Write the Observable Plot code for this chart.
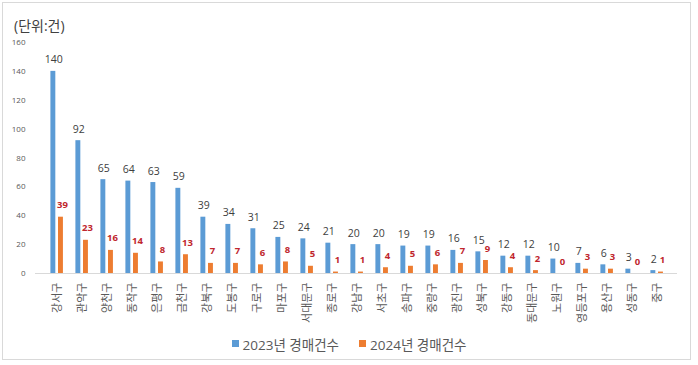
<!DOCTYPE html>
<html>
<head>
<meta charset="utf-8">
<script src="https://cdn.jsdelivr.net/npm/d3@7"></script>
<script src="https://cdn.jsdelivr.net/npm/@observablehq/plot@0.6"></script>
<style>
  html, body { margin: 0; padding: 0; background: #fff; font-family: "Open Sans", "Noto Sans CJK KR", sans-serif; overflow: hidden; }
  #wrap { position: relative; width: 698px; height: 365px; overflow: hidden; }
  #frame { position: absolute; left: 2px; top: 2px; width: 689px; height: 358px; border: 1px solid #d9d9d9; box-sizing: border-box; }
  #title { position: absolute; left: 14px; top: 15px; font-size: 14px; color: #404040; }
  #chart { position: absolute; left: 0; top: 0; width: 698px; height: 330px; }
  #chart svg { max-width: none !important; width: 698px !important; height: 330px !important; display: block; }
  #legend { position: absolute; top: 333px; left: 0; width: 698px; text-align: center; font-size: 13.5px; color: #595959; }
  #legend span.item { display: inline-flex; align-items: center; margin: 0 10px; }
  #legend span.sw { display: inline-block; width: 7px; height: 7px; margin-right: 4px; }
</style>
</head>
<body>
<div id="wrap">
  <div id="frame"></div>
  <div id="chart"></div>
  <div id="title">(단위:건)</div>
  <div id="legend"></div>
</div>
<script>
const categories = ["강서구","관악구","양천구","동작구","은평구","금천구","강북구","도봉구","구로구","마포구","서대문구","종로구","강남구","서초구","송파구","중랑구","광진구","성북구","강동구","동대문구","노원구","영등포구","용산구","성동구","중구"];
const values2023 = [140,92,65,64,63,59,39,34,31,25,24,21,20,20,19,19,16,15,12,12,10,7,6,3,2];
const values2024 = [39,23,16,14,8,13,7,7,6,8,5,1,1,4,5,6,7,9,4,2,0,3,3,0,1];
const seriesNames = ["2023년 경매건수","2024년 경매건수"];
const seriesColors = ["#5B9BD5","#ED7D31"];
const yTicks = [0,20,40,60,80,100,120,140,160];

const data2023 = categories.map((c, i) => ({category: c, value: values2023[i]}));
const data2024 = categories.map((c, i) => ({category: c, value: values2024[i]}));

const W = 698, ML = 35, MR = 21;
const bw = (W - ML - MR) / categories.length; // band width
const barW = 5.6;
const blueL = 6.4, orangeL = 14.0;

const chart = Plot.plot({
  width: W,
  height: 330,
  marginLeft: ML,
  marginRight: MR,
  marginTop: 42,
  marginBottom: 57,
  style: {fontFamily: '"Open Sans", "Noto Sans CJK KR", sans-serif', background: "transparent", maxWidth: "none"},
  x: {domain: categories, padding: 0, label: null},
  y: {domain: [0,160], label: null},
  marks: [
    Plot.axisX({tickRotate: -90, tickSize: 0, tickPadding: 9, fontSize: 11, color: "#595959", label: null}),
    Plot.axisY({ticks: yTicks, tickSize: 0, tickPadding: 10, fontSize: 8, color: "#595959", label: null}),
    Plot.barY(data2023, {x: "category", y: "value", fill: seriesColors[0], insetLeft: blueL, insetRight: bw - blueL - barW}),
    Plot.barY(data2024, {x: "category", y: "value", fill: seriesColors[1], insetLeft: orangeL, insetRight: bw - orangeL - barW}),
    Plot.ruleY([0], {stroke: "#d9d9d9"}),
    Plot.text(data2023, {x: "category", y: "value", text: d => String(d.value), lineAnchor: "bottom", dy: -8, dx: blueL + barW / 2 - bw / 2 + 0.5, fill: "#404040", fontSize: 10.5}),
    Plot.text(data2024, {x: "category", y: "value", text: d => String(d.value), lineAnchor: "bottom", dy: -9, dx: orangeL + barW / 2 - bw / 2 + 1.5, fill: "#c0262d", fontSize: 9.5, fontWeight: "bold"})
  ]
});
document.getElementById("chart").appendChild(chart);

const legend = document.getElementById("legend");
seriesNames.forEach((s, i) => {
  const item = document.createElement("span");
  item.className = "item";
  const sw = document.createElement("span");
  sw.className = "sw";
  sw.style.background = seriesColors[i];
  item.appendChild(sw);
  item.appendChild(document.createTextNode(s));
  legend.appendChild(item);
});
</script>
</body>
</html>
